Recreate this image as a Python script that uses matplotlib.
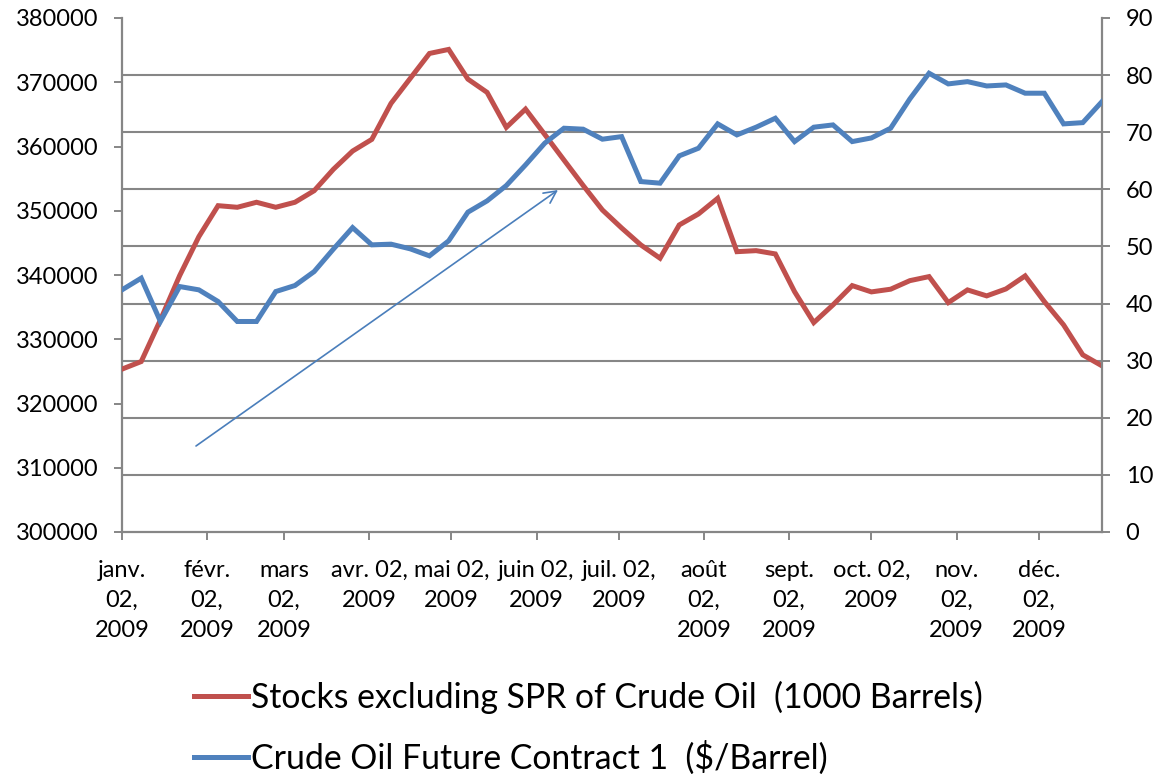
import matplotlib
matplotlib.use("Agg")
import matplotlib.pyplot as plt
import numpy as np
import pandas as pd

plt.rcParams['font.family'] = ['Lato', 'DejaVu Sans']

# Weekly data (Fridays), Jan 2 2009 .. Dec 25 2009
dates = pd.date_range('2009-01-02', periods=52, freq='7D')

stocks = [325350, 326530, 333010, 339900, 345970, 350790, 350540, 351320, 350540, 351320,
          353120, 356450, 359290, 361110, 366710, 370600, 374480, 375110, 370490, 368420,
          362980, 365820, 361870, 357890, 353930, 350120, 347320, 344680, 342610, 347790,
          349500, 351940, 343630, 343790, 343280, 337410, 332590, 335350, 338350, 337370,
          337790, 339120, 339750, 335700, 337680, 336750, 337830, 339860, 335860, 332240,
          327570, 325860]

crude = [42.4, 44.45, 36.86, 42.98, 42.4, 40.36, 36.86, 36.86, 42.1, 43.16,
         45.6, 49.53, 53.3, 50.28, 50.4, 49.58, 48.35, 50.98, 56.0, 57.98,
         60.66, 64.28, 68.08, 70.7, 70.53, 68.78, 69.23, 61.36, 61.08, 65.86,
         67.2, 71.46, 69.53, 70.88, 72.45, 68.36, 70.88, 71.28, 68.36, 69.0,
         70.7, 75.83, 80.33, 78.46, 78.86, 78.1, 78.28, 76.83, 76.83, 71.46,
         71.68, 75.36]

x_labels = ["janv.\n02,\n2009", "févr.\n02,\n2009", "mars\n02,\n2009", "avr. 02,\n2009",
            "mai 02,\n2009", "juin 02,\n2009", "juil. 02,\n2009", "août\n02,\n2009",
            "sept.\n02,\n2009", "oct. 02,\n2009", "nov.\n02,\n2009", "déc.\n02,\n2009"]

left_ticks = list(range(300000, 380001, 10000))
right_ticks = list(range(0, 91, 10))

label_red = "Stocks excluding SPR of Crude Oil  (1000 Barrels)"
label_blue = "Crude Oil Future Contract 1  ($/Barrel)"

RED = '#C0504D'
BLUE = '#4F81BD'
GRID = '#868686'

fig = plt.figure(figsize=(11.6, 7.74), dpi=100)
ax = fig.add_axes([122/1160, 1 - 532/774, (1102-122)/1160, (532-18)/774])
ax2 = ax.twinx()

l1, = ax.plot(dates, stocks, color=RED, lw=3.6, solid_joinstyle='miter', zorder=3)
l2, = ax2.plot(dates, crude, color=BLUE, lw=3.6, solid_joinstyle='miter', zorder=3)

ax.set_ylim(300000, 380000)
ax2.set_ylim(0, 90)

ax.set_yticks(left_ticks)
ax.set_yticklabels([str(v) for v in left_ticks])
ax2.set_yticks(right_ticks)
ax2.set_yticklabels([str(v) for v in right_ticks])

# gridlines follow the secondary axis
ax.set_yticks(np.linspace(300000, 380000, 10), minor=True)
ax.grid(True, which='minor', axis='y', color=GRID, lw=1.5, zorder=0)
ax.tick_params(axis='y', which='minor', length=0)
ax.set_axisbelow(True)

ticks = pd.date_range('2009-01-01', periods=12, freq='MS') + pd.Timedelta(days=1)
ax.set_xticks(ticks)
ax.set_xticklabels(x_labels, fontsize=17, linespacing=1.55, ha='center', va='top')
ax.set_xlim(dates[0], dates[-1])

for a in (ax, ax2):
    for s in a.spines.values():
        s.set_visible(False)
ax.spines['left'].set_visible(True)
ax.spines['bottom'].set_visible(True)
ax2.spines['right'].set_visible(True)
for s in (ax.spines['left'], ax.spines['bottom'], ax2.spines['right']):
    s.set_color(GRID)
    s.set_linewidth(1.6)

ax.tick_params(axis='y', which='major', length=6, width=1.4, color=GRID, pad=11,
               labelsize=17, direction='out')
ax.tick_params(axis='x', which='major', length=6, width=1.4, color=GRID, pad=14,
               direction='out')
ax2.tick_params(axis='y', which='major', length=6, width=1.4, color=GRID, pad=11,
                labelsize=17, direction='out')

# annotation arrow
fig.add_artist(matplotlib.patches.FancyArrowPatch(
    posA=(196/1160, 1 - 446/774), posB=(558/1160, 1 - 190/774),
    transform=fig.transFigure, arrowstyle='->', mutation_scale=22,
    color='#4A7EBB', lw=1.2, shrinkA=0, shrinkB=0))

fig.legend([l1, l2], [label_red, label_blue], loc='upper left',
           bbox_to_anchor=(194/1160, 1 - 681/774), frameon=False, fontsize=24.3,
           handlelength=1.6, handletextpad=0.1, labelspacing=0.8,
           borderpad=0, borderaxespad=0)

fig.savefig('out.png', dpi=100)
